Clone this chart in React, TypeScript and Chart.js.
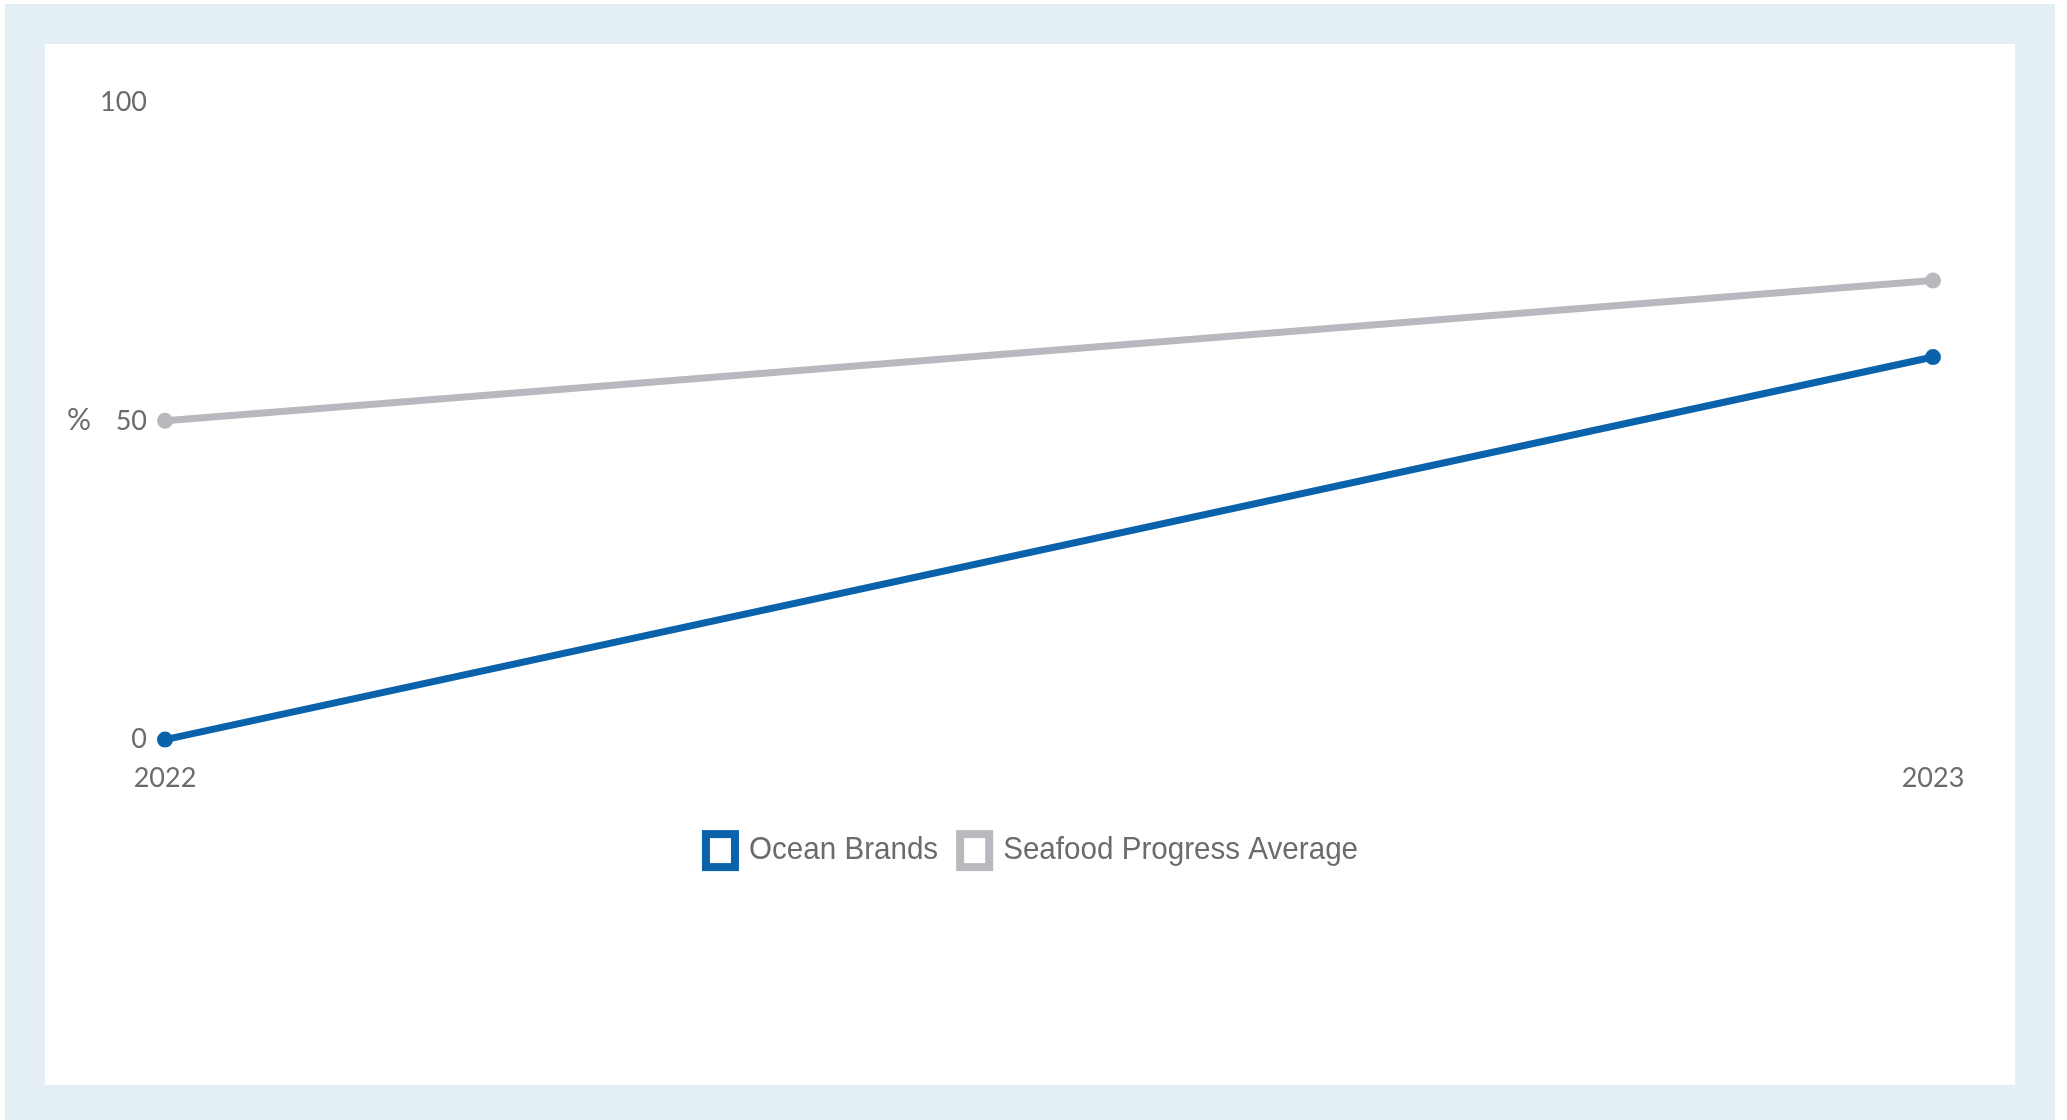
import React, { useEffect, useRef } from "react";
import { Chart, registerables } from "chart.js";

Chart.register(...registerables);

const years = ["2022", "2023"];
const oceanBrands = [0, 60];
const seafoodProgressAverage = [50, 72];
const yTicks = [0, 50, 100];

const BLUE = "#0a62ab";
const GREY = "#b9b8be";
const TEXT = "#6b6b6b";
const TICK_FONT = "Lato, 'Open Sans', 'DejaVu Sans', sans-serif";
const LEGEND_FONT = "'Liberation Sans', Arial, sans-serif";

// Draws the unrotated "%" unit beside the 50 tick of the y axis
const percentUnit = {
  id: "percentUnit",
  afterDraw(chart: any) {
    const y = chart.scales.y;
    const ctx = chart.ctx;
    ctx.save();
    ctx.font = `30px ${TICK_FONT}`;
    ctx.fillStyle = TEXT;
    ctx.textAlign = "center";
    ctx.textBaseline = "middle";
    ctx.fillText("%", 34, y.getPixelForValue(yTicks[1]));
    ctx.restore();
  },
};

// Legend row with outlined squares and a slightly condensed label face,
// centred under the plot
const outlinedLegend = {
  id: "outlinedLegend",
  afterDraw(chart: any) {
    const ctx = chart.ctx;
    const squeeze = 0.925;
    const box = 29;
    const boxH = 33;
    const stroke = 8;
    const gapText = 10 + stroke / 2;
    const gapItem = 14 + stroke / 2;
    const centerY = chart.chartArea.bottom + 111;
    ctx.save();
    ctx.font = `32px ${LEGEND_FONT}`;
    const items = chart.data.datasets.map((ds: any) => ({
      label: ds.label as string,
      color: ds.borderColor as string,
      w: ctx.measureText(ds.label).width * squeeze,
    }));
    const total = items.reduce(
      (s: number, it: any, i: number) =>
        s + stroke / 2 + box + gapText + it.w + (i < items.length - 1 ? gapItem : 0),
      0
    );
    let x = chart.width / 2 - total / 2;
    items.forEach((it: any) => {
      x += stroke / 2;
      ctx.fillStyle = "#ffffff";
      ctx.strokeStyle = it.color;
      ctx.lineWidth = stroke;
      ctx.fillRect(x, centerY - boxH / 2, box, boxH);
      ctx.strokeRect(x, centerY - boxH / 2, box, boxH);
      x += box + gapText;
      ctx.save();
      ctx.translate(x, centerY + 8);
      ctx.scale(squeeze, 1);
      ctx.fillStyle = TEXT;
      ctx.textAlign = "left";
      ctx.textBaseline = "alphabetic";
      ctx.fillText(it.label, 0, 0);
      ctx.restore();
      x += it.w + gapItem;
    });
    ctx.restore();
  },
};

export default function App() {
  const ref = useRef<HTMLCanvasElement | null>(null);

  useEffect(() => {
    if (!ref.current) return;
    const chart = new Chart(ref.current, {
      type: "line",
      data: {
        labels: years,
        datasets: [
          {
            label: "Ocean Brands",
            data: oceanBrands,
            borderColor: BLUE,
            backgroundColor: BLUE,
            borderWidth: 7,
            pointRadius: 8,
            pointBackgroundColor: BLUE,
            pointBorderWidth: 0,
            clip: false,
          },
          {
            label: "Seafood Progress Average",
            data: seafoodProgressAverage,
            borderColor: GREY,
            backgroundColor: GREY,
            borderWidth: 7,
            pointRadius: 8,
            pointBackgroundColor: GREY,
            pointBorderWidth: 0,
            clip: false,
          },
        ],
      },
      options: {
        animation: false,
        responsive: false,
        maintainAspectRatio: false,
        layout: { padding: { left: 0, right: 82, top: 58, bottom: 92 } },
        plugins: {
          tooltip: { enabled: false },
          legend: { display: false },
        },
        scales: {
          x: {
            offset: false,
            grid: { display: false },
            border: { display: false },
            afterFit(scale: any) {
              scale.height -= 4;
            },
            ticks: {
              color: TEXT,
              font: { family: TICK_FONT, size: 27 },
              padding: 14,
              maxRotation: 0,
            },
          },
          y: {
            min: 0,
            max: 100,
            grid: { display: false },
            border: { display: false },
            afterFit(scale: any) {
              scale.width = 120;
            },
            afterBuildTicks(scale: any) {
              scale.ticks = yTicks.map((v) => ({ value: v }));
            },
            ticks: {
              color: TEXT,
              font: { family: TICK_FONT, size: 27 },
              padding: 10,
            },
          },
        },
      },
      plugins: [percentUnit, outlinedLegend],
    });
    return () => chart.destroy();
  }, []);

  return (
    <div
      style={{
        position: "absolute",
        left: 0,
        top: 0,
        width: 2067,
        height: 1120,
        background: "#ffffff",
      }}
    >
      <div
        style={{
          position: "absolute",
          left: 5,
          top: 4,
          width: 2050,
          height: 1116,
          background: "#e3eef5",
        }}
      >
        <div
          style={{
            position: "absolute",
            left: 40,
            top: 40,
            width: 1970,
            height: 1041,
            background: "#ffffff",
          }}
        >
          <canvas ref={ref} width={1970} height={852} style={{ display: "block" }} />
        </div>
      </div>
    </div>
  );
}
